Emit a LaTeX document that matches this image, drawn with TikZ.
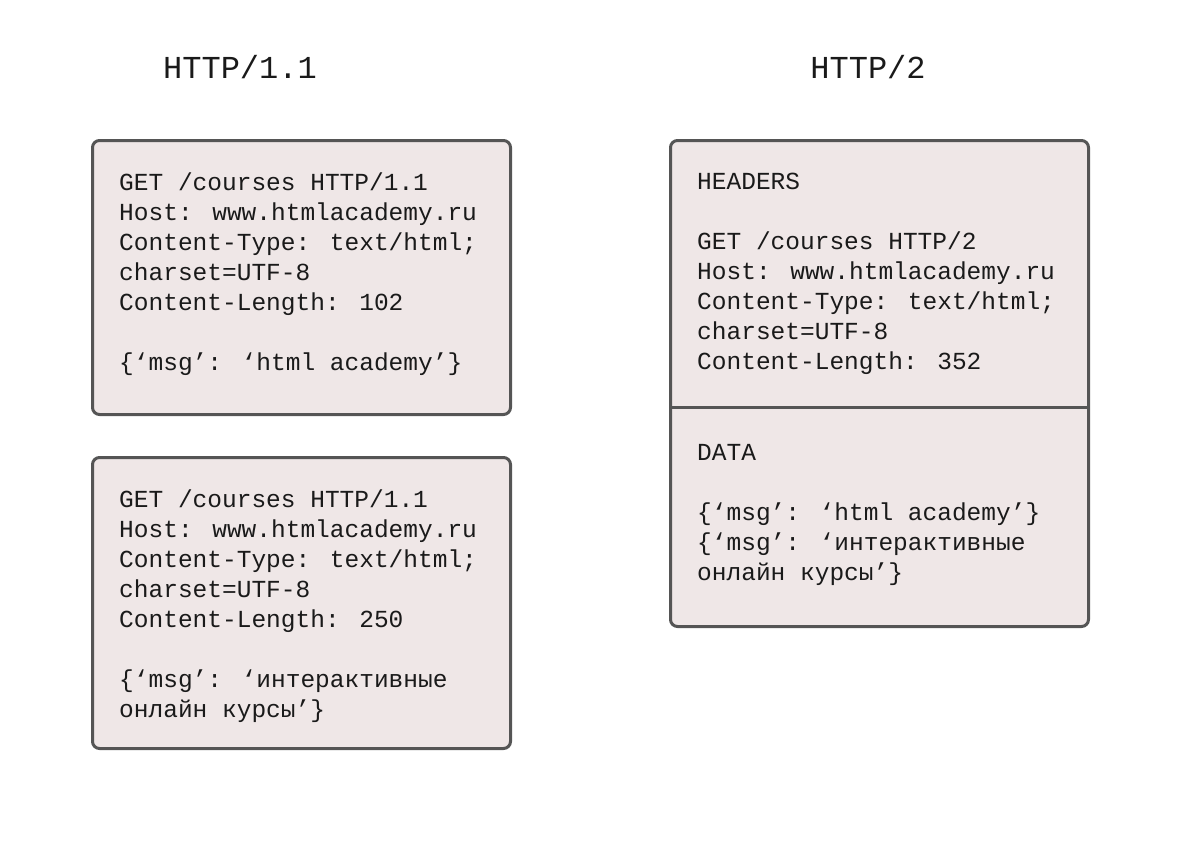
\documentclass[tikz,border=0pt]{standalone}
\usepackage{fontspec}
\newfontfamily\codefont{Liberation Mono}
\usetikzlibrary{positioning}
\definecolor{boxfill}{HTML}{EFE7E7}
\definecolor{boxline}{HTML}{555555}
\definecolor{ink}{HTML}{1A1A1A}
\tikzset{
  msgbox/.style={draw=boxline, fill=boxfill, line width=3pt, rounded corners=7pt,
    anchor=north west, minimum width=418pt, inner sep=0pt, outer sep=0pt},
  msgtext/.style={anchor=north west, align=left, inner sep=0pt, text=ink,
    font=\codefont\fontsize{24.5}{30}\selectfont},
  title/.style={text=ink, font=\codefont\fontsize{32}{36}\selectfont}
}

\begin{document}
\begin{tikzpicture}[x=1pt,y=-1pt]
  \useasboundingbox (0,0) rectangle (1191,852);

  % Titles
  \node[title] (t1) at (240,67) {HTTP/1.1};
  \node[title] (t2) at (868,67) {HTTP/2};

  % HTTP/1.1 requests
  \node[msgbox, minimum height=274pt] (req1) at (92.5,140.5) {};
  \node[msgbox, minimum height=291pt] (req2) at (92.5,457.5) {};

  \node[msgtext] (req1txt) at (119,173) {GET /courses HTTP/1.1\\
    Host: www.htmlacademy.ru\\
    Content-Type: text/html;\\
    charset=UTF-8\\
    Content-Length: 102\\[30pt]
    \{‘msg’: ‘html academy’\}};

  \node[msgtext] (req2txt) at (119,490) {GET /courses HTTP/1.1\\
    Host: www.htmlacademy.ru\\
    Content-Type: text/html;\\
    charset=UTF-8\\
    Content-Length: 250\\[30pt]
    \{‘msg’: ‘интерактивные\\
    онлайн курсы’\}};

  % HTTP/2 frames
  \node[msgbox, minimum height=486pt] (frames) at (670.5,140.5) {};
  \coordinate (split) at (0,407);
  \draw[boxline, line width=3pt] (frames.west |- split) -- (frames.east |- split);

  \node[msgtext] (headers) at (697,173) {HEADERS\\[30pt]
    GET /courses HTTP/2\\
    Host: www.htmlacademy.ru\\
    Content-Type: text/html;\\
    charset=UTF-8\\
    Content-Length: 352};

  \node[msgtext] (data) at (697,444) {DATA\\[30pt]
    \{‘msg’: ‘html academy’\}\\
    \{‘msg’: ‘интерактивные\\
    онлайн курсы’\}};
\end{tikzpicture}
\end{document}
